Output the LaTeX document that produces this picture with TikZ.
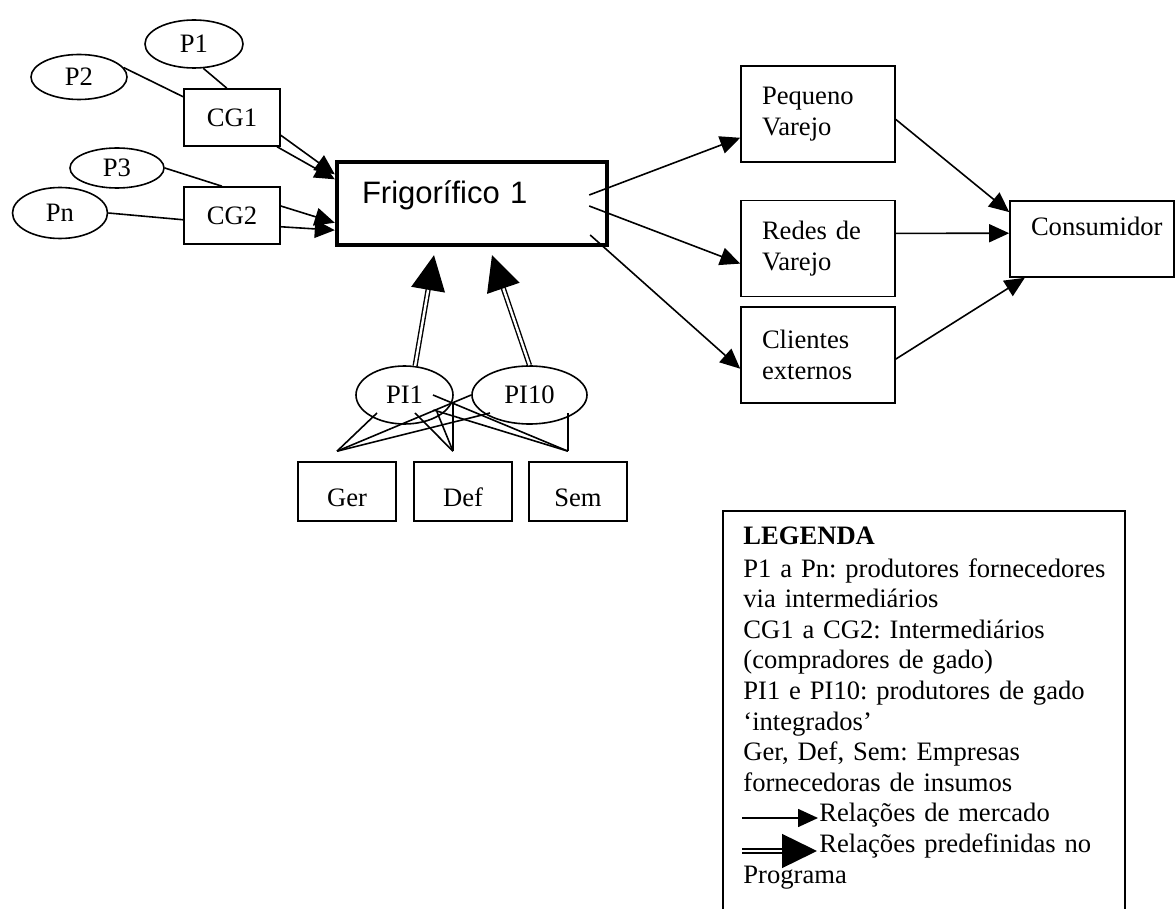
\documentclass[tikz,border=0pt]{standalone}
\usepackage{fontspec}
\setmainfont{Liberation Serif}
\newfontfamily\arialfont{Liberation Sans}
\usetikzlibrary{arrows.meta,calc,shapes.geometric}
\frenchspacing

\begin{document}
\begin{tikzpicture}[x=0.5pt,y=-0.5pt,
	every node/.style={font=\fontsize{13.3pt}{15.3pt}\selectfont},
	prod/.style={draw,ellipse,inner sep=0pt,line width=0.8pt},
	caixa/.style={draw,rectangle,inner sep=0pt,line width=0.8pt},
	varejo/.style={draw,rectangle,line width=0.8pt,inner xsep=10.5pt,inner ysep=0pt,text width=56pt,align=left,minimum height=48pt},
	liga/.style={line width=0.8pt},
	mercado/.style={line width=0.8pt,-{Triangle[length=10pt,width=9pt]}},
	predef/.style={double,line width=0.7pt,double distance=1.2pt,-{Triangle[length=17.5pt,width=17pt]}}]
	\useasboundingbox (0,0) rectangle (1175,909);
	\node[prod,minimum width=49pt,minimum height=24pt] (pone) at (194,44) {P1};
	\node[prod,minimum width=48pt,minimum height=22.5pt] (ptwo) at (79,77) {P2};
	\node[prod,minimum width=47pt,minimum height=20pt] (pthree) at (117,168) {P3};
	\node[prod,minimum width=47.5pt,minimum height=25.5pt] (pn) at (60,213) {Pn};
	\node[caixa,minimum width=48pt,minimum height=28.5pt] (cgone) at (232,117.5) {CG1};
	\node[caixa,minimum width=48pt,minimum height=28.5pt] (cgtwo) at (232,215.5) {CG2};
	\node[draw,line width=2.2pt,inner xsep=12.5pt,inner ysep=0pt,text width=110pt,align=left,minimum height=41.5pt,text height=6pt,text depth=6pt,font=\arialfont\fontsize{15.5pt}{18pt}\selectfont] (frig) at (472,203.5) {Frigorífico 1};
	\node[varejo] (pequeno) at (818,114) {Pequeno\\Varejo};
	\node[varejo] (redes) at (818,248.5) {Redes de\\Varejo};
	\node[varejo] (clientes) at (818,355) {Clientes\\externos};
	\node[draw,line width=0.8pt,inner xsep=10.5pt,inner ysep=0pt,text width=61pt,align=left,minimum height=38pt,text height=6pt,text depth=9pt] (consumidor) at (1092,239) {Consumidor};
	\node[prod,minimum width=48.5pt,minimum height=29pt] (pione) at (404.5,395) {PI1};
	\node[prod,minimum width=57.5pt,minimum height=29pt] (piten) at (529.5,395) {PI10};
	\node[caixa,minimum width=49pt,minimum height=29.5pt,text height=15pt,text depth=0pt] (ger) at (347,491.5) {Ger};
	\node[caixa,minimum width=49pt,minimum height=29.5pt,text height=15pt,text depth=0pt] (def) at (463,491.5) {Def};
	\node[caixa,minimum width=49pt,minimum height=29.5pt,text height=15pt,text depth=0pt] (sem) at (578,491.5) {Sem};

	\draw[liga] (pone.-69) -- (cgone.100);
	\draw[liga] (ptwo.12) -- (cgone.157);
	\draw[liga] (pthree.east) -- (cgtwo.109);
	\draw[liga] (pn.east) -- (cgtwo.-175);
	\draw[mercado] (cgone.-20) -- (frig.168);
	\draw[mercado] (cgone.-33) -- (frig.170);
	\draw[mercado] (cgtwo.11) -- (frig.-172);
	\draw[mercado] (cgtwo.-13) -- (frig.-169);

	\coordinate (saida1) at ($(frig.east)+(-20,-8.5)$);
	\coordinate (saida2) at ($(frig.east)+(-20,2.5)$);
	\coordinate (saida3) at ($(frig.east)+(-19,31.5)$);
	\draw[mercado] (saida1) -- (pequeno.-163);
	\draw[mercado] (saida2) -- (redes.-169);
	\draw[mercado] (saida3) -- (clientes.-170);
	\draw[mercado] (pequeno.-4) -- (consumidor.162);
	\draw[mercado] (redes.11) -- (consumidor.176);
	\draw[mercado] (clientes.-3) -- (consumidor.-150);

	\coordinate (alvo1) at ($(frig.south)+(-38,8)$);
	\coordinate (alvo2) at ($(frig.south)+(20,8)$);
	\draw[predef] (pione.70) -- (alvo1);
	\draw[predef] (piten.north) -- (alvo2);

	\coordinate (topoger) at ($(ger.north)+(-10,-10)$);
	\coordinate (topodef) at ($(def.north)+(-10,-10)$);
	\coordinate (toposem) at ($(sem.north)+(-10,-10)$);
	\coordinate (a1) at ($(pione)+(-27.5,18)$);
	\coordinate (a2) at ($(pione)+(10.5,18)$);
	\coordinate (a3) at ($(pione)+(32.5,17)$);
	\coordinate (a4) at ($(pione)+(48.5,7)$);
	\coordinate (a5) at ($(pione)+(28.5,0)$);
	\coordinate (a6) at ($(pione)+(29,15)$);
	\coordinate (b1) at ($(piten)+(-39.5,18)$);
	\coordinate (b2) at ($(piten)+(38.5,18)$);
	\draw[liga] (topoger) -- (a1);
	\draw[liga] (topoger) -- (piten.west);
	\draw[liga] (topoger) -- (b1);
	\draw[liga] (topodef) -- (a2);
	\draw[liga] (topodef) -- (a3);
	\draw[liga] (topodef) -- (a4);
	\draw[liga] (toposem) -- (a5);
	\draw[liga] (toposem) -- (a6);
	\draw[liga] (toposem) -- (b2);

	\draw[liga] (723,909) -- (723,511) -- (1125,511) -- (1125,909);
	\node[anchor=base west,inner sep=0pt,text width=190pt,align=left] (legenda) at (743,545) {\textbf{LEGENDA}\\[0.8pt]
		P1 a Pn: produtores fornecedores\\
		via intermediários\\
		CG1 a CG2: Intermediários\\
		(compradores de gado)\\
		PI1 e PI10: produtores de gado\\
		‘integrados’\\
		Ger, Def, Sem: Empresas\\
		fornecedoras de insumos\\
		\hspace*{38pt}Relações de mercado\\
		\hspace*{38pt}Relações predefinidas no\\
		Programa};
	\coordinate (mercini) at (742,818);
	\coordinate (mercfim) at (818,818);
	\draw[mercado] (mercini) -- (mercfim);
	\coordinate (preini) at (742,851);
	\coordinate (prefim) at (817,851);
	\draw[predef] (preini) -- (prefim);
\end{tikzpicture}
\end{document}
